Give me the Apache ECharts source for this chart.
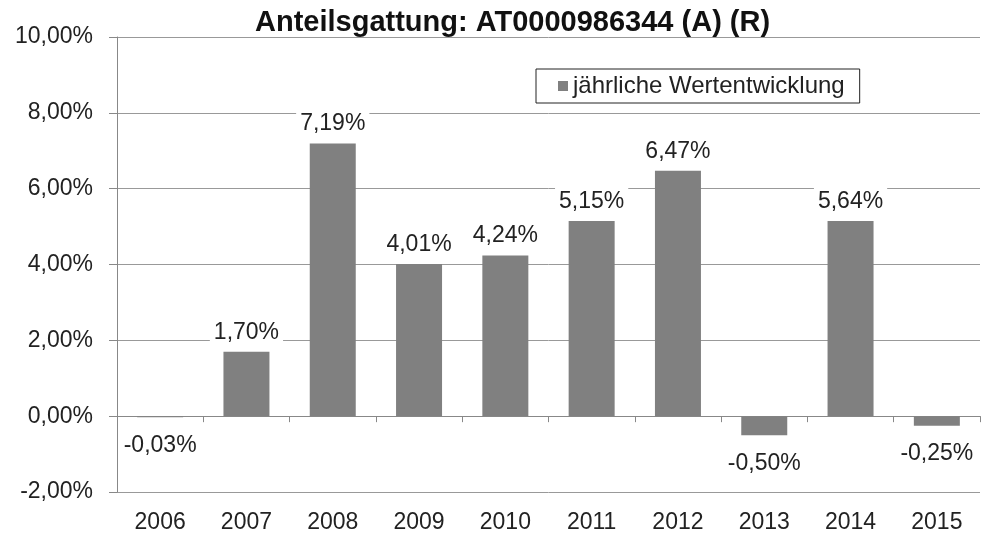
<!DOCTYPE html>
<html>
<head>
<meta charset="utf-8">
<script src="https://cdn.jsdelivr.net/npm/echarts@6/dist/echarts.min.js"></script>
<style>
  html, body { margin: 0; padding: 0; background: #fff; }
  #chart { width: 984px; height: 540px; }
</style>
</head>
<body>
<div id="chart"></div>
<script>
  // Jahre und Werte
  const years = ['2006', '2007', '2008', '2009', '2010', '2011', '2012', '2013', '2014', '2015'];
  // Balkenhöhen
  const barValues = [-0.03, 1.70, 7.19, 4.01, 4.24, 5.15, 6.47, -0.50, 5.15, -0.25];
  // Beschriftungen wie im Bild
  const labelValues = [-0.03, 1.70, 7.19, 4.01, 4.24, 5.15, 6.47, -0.50, 5.64, -0.25];
  const yTicks = [-2, 0, 2, 4, 6, 8, 10];

  const fmt = v => v.toFixed(2).replace('.', ',') + '%';
  const font = 'Liberation Sans, Arial, sans-serif';

  let myChart = echarts.init(document.getElementById('chart'));

  myChart.setOption({
    animation: false,
    title: {
      text: 'Anteilsgattung: AT0000986344 (A) (R)',
      left: 250,
      top: 3,
      textStyle: { fontFamily: font, fontSize: 29, fontWeight: 'bold', color: '#111' }
    },
    legend: {
      left: 536,
      top: 69,
      padding: [5, 15, 5, 22],
      borderColor: '#222',
      borderWidth: 1,
      backgroundColor: '#fff',
      icon: 'rect',
      itemWidth: 10,
      itemHeight: 10,
      itemGap: 4,
      textStyle: { fontFamily: font, fontSize: 24, color: '#222', padding: [0, 0, 0, 0] },
      data: ['jährliche Wertentwicklung']
    },
    grid: { left: 117, right: 4, top: 37, bottom: 48 },
    xAxis: [
      {
        type: 'category',
        data: years,
        axisLine: { onZero: true, lineStyle: { color: '#888', width: 1 } },
        axisTick: { show: true, length: 6, inside: false, lineStyle: { color: '#888' } },
        axisLabel: { show: false }
      },
      {
        type: 'category',
        data: years,
        position: 'bottom',
        axisLine: { show: false, onZero: false },
        axisTick: { show: false },
        axisLabel: { margin: 19, fontFamily: font, fontSize: 23, color: '#222' }
      }
    ],
    yAxis: {
      type: 'value',
      min: yTicks[0],
      max: yTicks[yTicks.length - 1],
      interval: 2,
      axisLine: { show: true, lineStyle: { color: '#888' } },
      axisTick: { show: true, length: 8, lineStyle: { color: '#888' } },
      splitLine: { lineStyle: { color: '#999', width: 1 } },
      axisLabel: {
        margin: 24,
        fontFamily: font,
        fontSize: 23,
        color: '#222',
        formatter: v => fmt(v)
      }
    },
    series: [
      {
        name: 'jährliche Wertentwicklung',
        type: 'bar',
        barWidth: 46,
        itemStyle: { color: '#808080' },
        data: barValues.map((v, i) => ({
          value: v,
          label: {
            show: true,
            position: v < 0 ? 'bottom' : 'top',
            distance: v < 0 ? 15 : 6,
            formatter: fmt(labelValues[i]),
            fontFamily: font,
            fontSize: 23,
            color: '#222',
            backgroundColor: '#fff',
            padding: [2, 4]
          }
        }))
      }
    ]
  });
</script>
</body>
</html>
